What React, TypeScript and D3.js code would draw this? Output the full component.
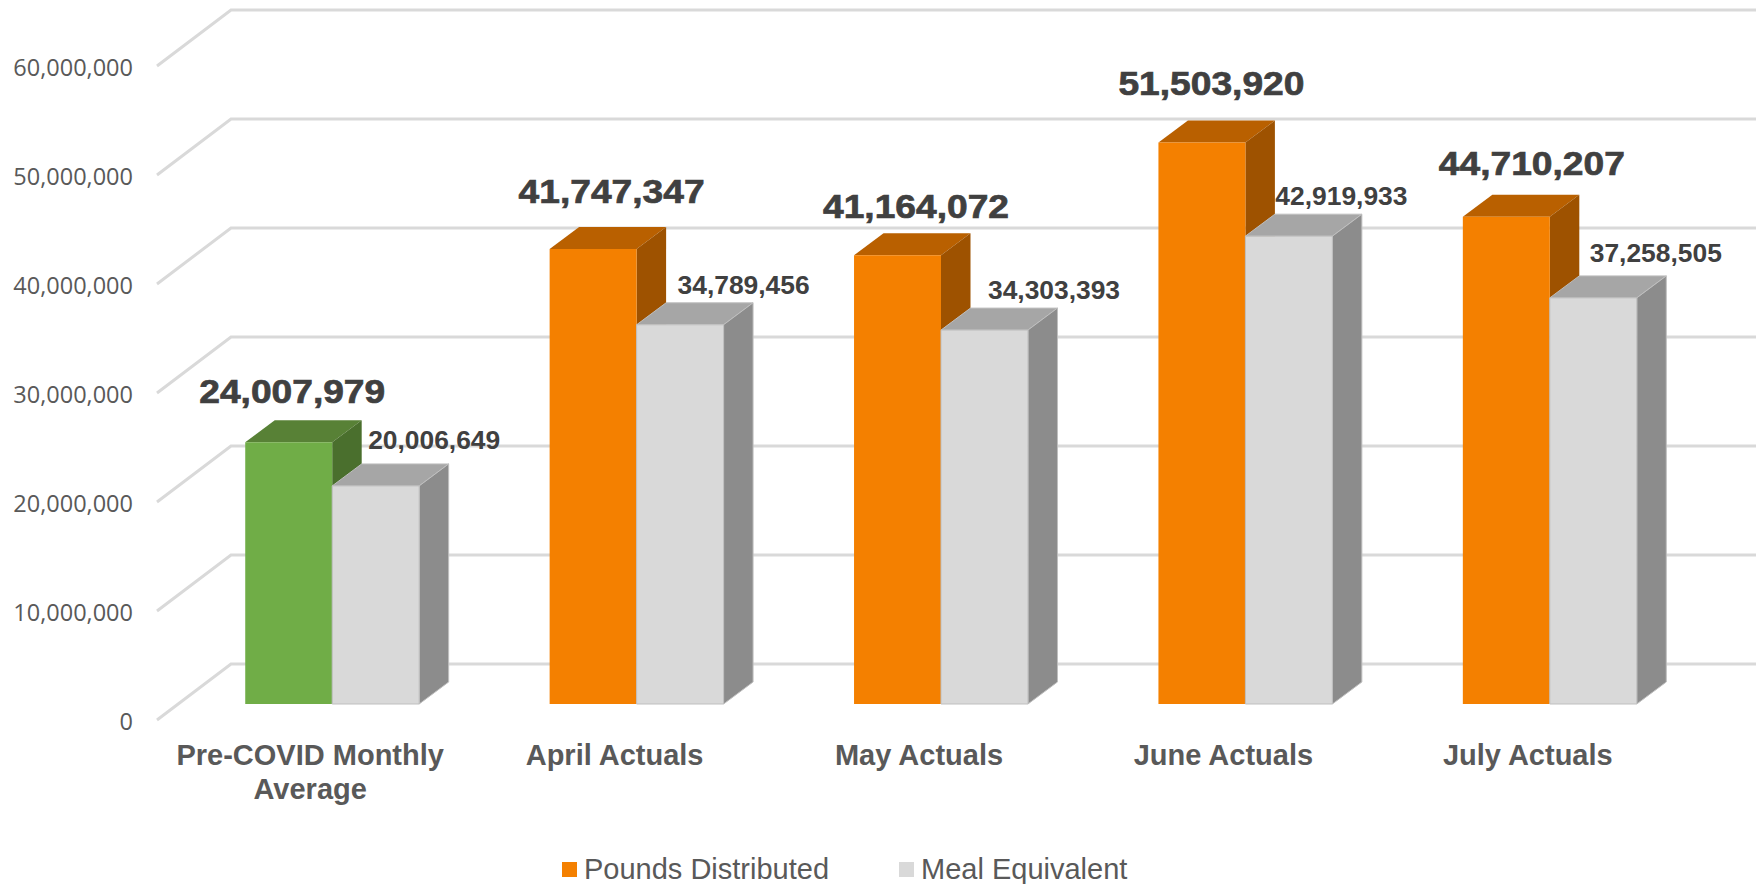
import { useEffect, useRef } from "react";
import * as d3 from "d3";

const categories = ["Pre-COVID Monthly Average", "April Actuals", "May Actuals", "June Actuals", "July Actuals"];
const series = ["Pounds Distributed", "Meal Equivalent"];
const pounds = [24007979, 41747347, 41164072, 51503920, 44710207];
const meals = [20006649, 34789456, 34303393, 42919933, 37258505];
const yTicks = [0, 10000000, 20000000, 30000000, 40000000, 50000000, 60000000];

// hand placed data labels in the original, offsets from the bar's top left corner
const poundsNudge = [[47, -39], [62, -46], [62, -37], [53, -48], [69, -42]];
const mealsNudge = [[102, -37], [107, -31], [113, -31], [96, -31], [106, -36]];

const WIDTH = 1756;
const HEIGHT = 884;
const DEPTH_X = 29.5;
const DEPTH_Y = 22;
const FONT = "'Liberation Sans', Arial, sans-serif";

const orange = { front: "#f48000", top: "#b96000", side: "#9e5200", edge: "none" };
const green = { front: "#70ad47", top: "#588136", side: "#4a6f2d", edge: "none" };
const grey = { front: "#d9d9d9", top: "#a6a6a6", side: "#8c8c8c", edge: "#bfbfbf" };

export default function App() {
  const svgRef = useRef<SVGSVGElement>(null);

  useEffect(() => {
    if (!svgRef.current) return;
    const svg = d3.select(svgRef.current);
    svg.selectAll("*").remove();

    // Scales
    const x = d3.scaleBand<string>().domain(categories).range([180, 1702]).paddingInner(0.4286).paddingOuter(0.2143);
    const inner = d3.scaleBand<string>().domain(series).range([0, x.bandwidth()]);
    const y = d3.scaleLinear().domain([0, 60000000]).range([704, 50]);

    // Grid: floor diagonal plus back wall line
    const grid = d3.line();
    svg
      .append("g")
      .selectAll("path")
      .data(yTicks)
      .join("path")
      .attr("d", (d) => grid([[157, y(d) + 16], [231, y(d) - 40], [WIDTH, y(d) - 40]]))
      .attr("fill", "none")
      .attr("stroke", "#d9d9d9")
      .attr("stroke-width", 3);

    // Y axis
    const yAxis = d3.axisLeft(y).tickValues(yTicks).tickSize(0).tickPadding(0).tickFormat((d) => d3.format(",")(d as number));
    const axisG = svg.append("g").attr("transform", "translate(133,18)").call(yAxis);
    axisG.select(".domain").remove();
    axisG
      .selectAll("text")
      .attr("fill", "#595959")
      .style("font-family", "'Open Sans', sans-serif")
      .style("font-size", "23.5px");

    // Bars
    const drawBar = (cat: string, name: string, value: number, c: typeof orange) => {
      const x0 = (x(cat) ?? 0) + (inner(name) ?? 0);
      const x1 = x0 + inner.bandwidth();
      const y0 = y(value);
      const b = y(0);
      const g = svg.append("g");
      const poly = (pts: number[][], fill: string) =>
        g.append("polygon").attr("points", pts.join(" ")).attr("fill", fill).attr("stroke", c.edge).attr("stroke-width", 1);
      poly([[x0, y0], [x0 + DEPTH_X, y0 - DEPTH_Y], [x1 + DEPTH_X, y0 - DEPTH_Y], [x1, y0]], c.top);
      poly([[x1, y0], [x1 + DEPTH_X, y0 - DEPTH_Y], [x1 + DEPTH_X, b - DEPTH_Y], [x1, b]], c.side);
      poly([[x0, y0], [x1, y0], [x1, b], [x0, b]], c.front);
    };
    categories.forEach((cat, i) => {
      drawBar(cat, series[0], pounds[i], i === 0 ? green : orange);
      drawBar(cat, series[1], meals[i], grey);
    });

    // Data labels
    categories.forEach((cat, i) => {
      const x0 = x(cat) ?? 0;
      svg
        .append("text")
        .attr("x", x0 + poundsNudge[i][0])
        .attr("y", y(pounds[i]) + poundsNudge[i][1])
        .attr("text-anchor", "middle")
        .attr("textLength", 186)
        .attr("lengthAdjust", "spacingAndGlyphs")
        .attr("fill", "#404040")
        .attr("stroke", "#404040")
        .attr("stroke-width", 0.7)
        .style("font-family", FONT)
        .style("font-weight", "700")
        .style("font-size", "33px")
        .text(d3.format(",")(pounds[i]));
      svg
        .append("text")
        .attr("x", x0 + inner.bandwidth() + mealsNudge[i][0])
        .attr("y", y(meals[i]) + mealsNudge[i][1])
        .attr("text-anchor", "middle")
        .attr("fill", "#404040")
        .style("font-family", FONT)
        .style("font-weight", "700")
        .style("font-size", "26.4px")
        .text(d3.format(",")(meals[i]));
    });

    // Category labels
    categories.forEach((cat) => {
      const cx = (x(cat) ?? 0) + x.bandwidth() / 2 - 22;
      const lines = cat.length > 20 ? ["Pre-COVID Monthly", "Average"] : [cat];
      lines.forEach((line, j) => {
        svg
          .append("text")
          .attr("x", cx)
          .attr("y", 765 + j * 34)
          .attr("text-anchor", "middle")
          .attr("fill", "#595959")
          .style("font-family", FONT)
          .style("font-weight", "700")
          .style("font-size", "29px")
          .text(line);
      });
    });

    // Legend
    const legendX = [562, 899];
    series.forEach((name, i) => {
      svg
        .append("rect")
        .attr("x", legendX[i])
        .attr("y", 862)
        .attr("width", 15)
        .attr("height", 15)
        .attr("fill", i === 0 ? orange.front : grey.front);
      svg
        .append("text")
        .attr("x", legendX[i] + 22)
        .attr("y", 879)
        .attr("fill", "#595959")
        .style("font-family", FONT)
        .style("font-size", "29px")
        .text(name);
    });
  }, []);

  return (
    <svg
      ref={svgRef}
      width={WIDTH}
      height={HEIGHT}
      style={{ position: "absolute", left: 0, top: 0, background: "#fff" }}
    />
  );
}
